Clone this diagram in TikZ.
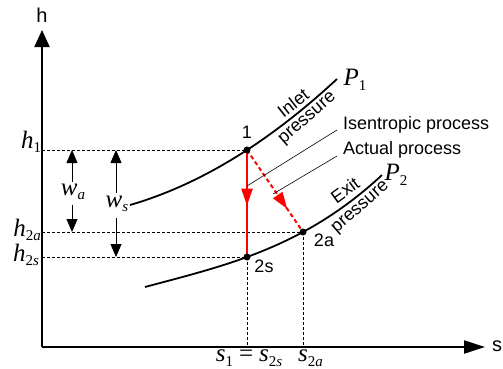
\documentclass[tikz,border=0pt]{standalone}
\usepackage{fontspec}
\setmainfont{Liberation Sans}
\newfontfamily\tm{Liberation Serif}
\usetikzlibrary{arrows.meta,decorations.markings}
\newcommand\mv[2]{{\tm\fontsize{25}{27}\selectfont\itshape #1\raisebox{-4.5pt}{\fontsize{15}{16}\selectfont\upshape #2}}}
\begin{document}
\begin{tikzpicture}[x=1pt,y=1pt,
  ax/.style={line width=2.2pt},
  isobar/.style={line width=1.8pt},
  guide/.style={line width=0.6pt, dash pattern=on 3pt off 2pt},
  dot/.style={circle, fill=black, inner sep=0pt, minimum size=7pt},
  lbl/.style={font=\fontsize{18}{20}\selectfont, inner sep=0pt},
  axl/.style={font=\fontsize{20}{22}\selectfont, inner sep=0pt},
  big/.style={font=\fontsize{18}{20}\selectfont, inner sep=0pt},
  warrow/.style={line width=0.8pt, -{Triangle[length=13pt,width=11pt]}},
  leader/.style={line width=0.6pt},
  redarr/.style={postaction={decorate, decoration={markings,
     mark=at position #1 with {\arrow{Triangle[length=17pt,width=11pt]}}}}}
]
\useasboundingbox (0,0) rectangle (503,368);

% axes
\coordinate (O) at (42,21);
\coordinate (ytip) at (42,338);
\coordinate (xtip) at (485,21);
\draw[ax, -{Triangle[length=17pt,width=15pt]}] (O) -- (ytip);
\draw[ax, -{Triangle[length=21pt,width=13pt]}] (O) -- (xtip);
\node[axl] (hl) at (42,353) {h};
\node[axl] (sl) at (497,22) {s};

% state coordinates
\coordinate (c1) at (247,218);
\coordinate (c2s) at (247,111);
\coordinate (c2a) at (303,136);

% isobars
\draw[isobar] plot[domain=0:2.07, samples=60, variable=\v]
  ({130+100*\v}, {163 + 28.99*\v + 15.40*\v*\v});
\draw[isobar] plot[domain=0:2.37, samples=60, variable=\v]
  ({145+100*\v}, {81 + 26.882*\v - 2.14*\v*\v + 4.53*\v*\v*\v});

% guide lines
\coordinate (yh1) at (42,218);
\coordinate (yh2a) at (42,136);
\coordinate (yh2s) at (42,111);
\draw[guide] (yh1) -- (c1);
\draw[guide] (yh2a) -- (c2a);
\draw[guide] (yh2s) -- (c2s);
\draw[guide] (c2s) -- (c2s |- O);
\draw[guide] (c2a) -- (c2a |- O);

% processes
\draw[red, line width=2.4pt, redarr=0.52] (c1) -- (c2s);
\draw[red, line width=2pt, dash pattern=on 4pt off 3pt, redarr=0.72] (c1) -- (c2a);

% points
\node[dot] (p1) at (c1) {};
\node[dot] (p2s) at (c2s) {};
\node[dot] (p2a) at (c2a) {};
\node[lbl] (l1) at (247,236) {1};
\node[lbl] (l2s) at (264,102) {2s};
\node[lbl] (l2a) at (324,128) {2a};

% h labels
\node[inner sep=0pt] (h1) at (31,226) {\mv{h}{1}};
\node[inner sep=0pt] (h2a) at (27,138) {\mv{h}{2\textit{a}}};
\node[inner sep=0pt] (h2s) at (26,113) {\mv{h}{2\textit{s}}};

% work arrows
\coordinate (wa1) at (72,186);
\coordinate (wa2) at (72,163);
\coordinate (ws1) at (116,175);
\coordinate (ws2) at (116,150);
\draw[warrow] (wa1) -- (72,218);
\node[inner sep=0pt] (wa) at (73,176) {\mv{w}{\textit{a}}};
\draw[warrow] (wa2) -- (72,136);
\draw[warrow] (ws1) -- (116,218);
\node[inner sep=0pt] (ws) at (117,164) {\mv{w}{\textit{s}}};
\draw[warrow] (ws2) -- (116,111);

% s labels
\node[inner sep=0pt] (s1) at (249,10) {\mv{s}{1}\hspace{6pt}{\fontsize{25}{27}\selectfont\tm =}\hspace{6pt}\mv{s}{2\textit{s}}};
\node[inner sep=0pt, anchor=west] (s2a) at (298,10) {\mv{s}{2\textit{a}}};

% pressure labels
\node[inner sep=0pt] (P1) at (355,288) {\mv{P}{1}};
\node[inner sep=0pt] (P2) at (396,193) {\mv{P}{2}};
\node[lbl, rotate=38] (inl) at (293,265) {Inlet};
\node[lbl, rotate=41] (inp) at (308,249) {pressure};
\node[lbl, rotate=36] (exl) at (345,178) {Exit};
\node[lbl, rotate=41] (exp) at (361,160) {pressure};

% process labels
\node[big, anchor=west] (iso) at (343,243) {Isentropic process};
\node[big, anchor=west] (act) at (343,218) {Actual process};
\coordinate (iL) at (337,238);
\coordinate (aL) at (337,212);
\coordinate (iE) at (247,182);
\coordinate (aE) at (273,174);
\draw[leader] (iL) -- (iE);
\draw[leader] (aL) -- (aE);
\end{tikzpicture}
\end{document}
